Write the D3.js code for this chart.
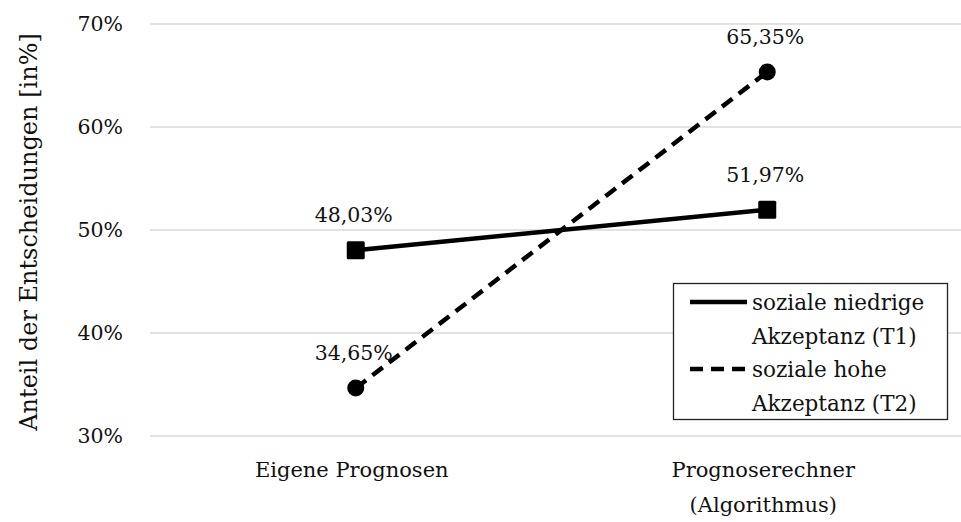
<!DOCTYPE html>
<html>
<head>
<meta charset="utf-8">
<script src="https://cdn.jsdelivr.net/npm/d3@7"></script>
<style>
  html, body { margin: 0; padding: 0; background: #fff; }
</style>
</head>
<body>
<svg id="chart" width="961" height="522" font-family="'DejaVu Serif', serif"></svg>
<script>
const categories = ["Eigene Prognosen", "Prognoserechner\n(Algorithmus)"];
const seriesNames = ["soziale niedrige\nAkzeptanz (T1)", "soziale hohe\nAkzeptanz (T2)"];
const lowValues = [48.03, 51.97];
const highValues = [34.65, 65.35];
const lowLabels = ["48,03%", "51,97%"];
const highLabels = ["34,65%", "65,35%"];
const yTicks = [30, 40, 50, 60, 70];

const FS = 20;
const svg = d3.select("#chart");
const plot = { left: 150, right: 973, top: 24, bottom: 436 };

const x = d3.scaleBand().domain(categories).range([plot.left, plot.right]);
const y = d3.scaleLinear().domain([30, 70]).range([plot.bottom, plot.top]);
const cx = c => x(c) + x.bandwidth() / 2;

svg.append("g").selectAll("line").data(yTicks).join("line")
  .attr("x1", plot.left).attr("x2", plot.right)
  .attr("y1", d => y(d)).attr("y2", d => y(d))
  .attr("stroke", "#d9d9d9").attr("stroke-width", 1.3);

svg.append("g").selectAll("text").data(yTicks).join("text")
  .attr("x", 123).attr("y", d => y(d)).attr("dy", "0.36em")
  .attr("text-anchor", "end").attr("font-size", 20.5).attr("fill", "#111")
  .text(d => d + "%");

svg.append("text")
  .attr("transform", `translate(37,${(plot.top + plot.bottom) / 2 + 2}) rotate(-90)`)
  .attr("text-anchor", "middle").attr("font-size", 24).attr("fill", "#111")
  .text("Anteil der Entscheidungen [in%]");

categories.forEach(c => {
  const lines = c.split("\n");
  const t = svg.append("text").attr("text-anchor", "middle").attr("font-size", 21).attr("fill", "#111");
  lines.forEach((ln, i) => {
    t.append("tspan").attr("x", cx(c) - 4).attr("y", 477 + i * 35).text(ln);
  });
});

const line = d3.line().x(d => cx(d.c)).y(d => y(d.v));
const lowData = categories.map((c, i) => ({ c, v: lowValues[i], l: lowLabels[i] }));
const highData = categories.map((c, i) => ({ c, v: highValues[i], l: highLabels[i] }));

svg.append("path").datum(highData).attr("d", line)
  .attr("fill", "none").attr("stroke", "#000").attr("stroke-width", 4.5)
  .attr("stroke-dasharray", "13,8");
svg.append("g").selectAll("circle").data(highData).join("circle")
  .attr("cx", d => cx(d.c)).attr("cy", d => y(d.v)).attr("r", 8.5).attr("fill", "#000");

svg.append("path").datum(lowData).attr("d", line)
  .attr("fill", "none").attr("stroke", "#000").attr("stroke-width", 4.5);
svg.append("g").selectAll("rect").data(lowData).join("rect")
  .attr("x", d => cx(d.c) - 9).attr("y", d => y(d.v) - 9)
  .attr("width", 18).attr("height", 18).attr("rx", 1.5).attr("fill", "#000");

svg.append("g").selectAll("text").data(lowData.concat(highData)).join("text")
  .attr("x", d => cx(d.c) - 2).attr("y", d => y(d.v) - 28)
  .attr("text-anchor", "middle").attr("font-size", 20.5).attr("fill", "#111")
  .text(d => d.l);

const lg = svg.append("g");
lg.append("rect").attr("x", 673.5).attr("y", 283.5).attr("width", 274).attr("height", 136)
  .attr("fill", "#fff").attr("stroke", "#222").attr("stroke-width", 1.3);
const dashes = [null, "13,8"];
seriesNames.forEach((s, i) => {
  const yy = 302 + i * 67;
  lg.append("line").attr("x1", 690).attr("x2", 747).attr("y1", yy).attr("y2", yy)
    .attr("stroke", "#000").attr("stroke-width", 4.5)
    .attr("stroke-dasharray", dashes[i]);
  const t = lg.append("text").attr("font-size", 21.5).attr("fill", "#111");
  s.split("\n").forEach((ln, j) => {
    t.append("tspan").attr("x", 752).attr("y", yy + j * 34).attr("dy", "0.36em").text(ln);
  });
});
</script>
</body>
</html>
